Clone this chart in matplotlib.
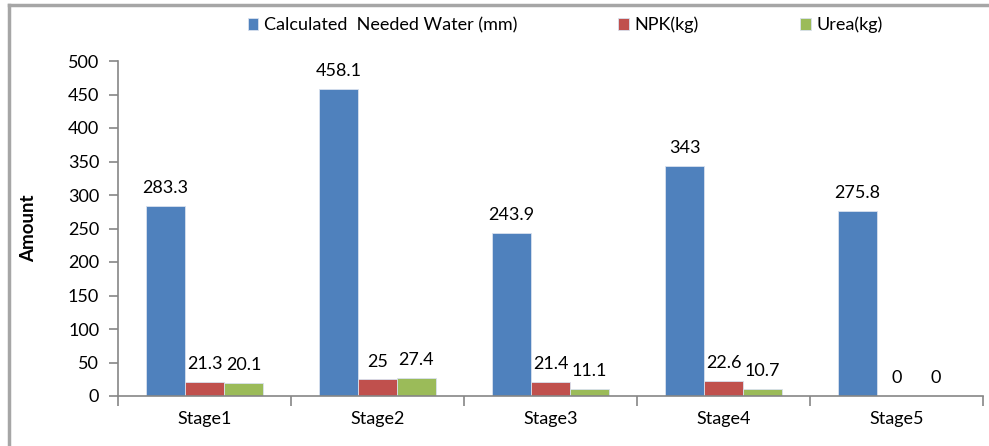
import numpy as np
import matplotlib.pyplot as plt
from matplotlib.lines import Line2D

# Datos
stages = ['Stage1', 'Stage2', 'Stage3', 'Stage4', 'Stage5']
water = [283.3, 458.1, 243.9, 343, 275.8]
npk = [21.3, 25, 21.4, 22.6, 0]
urea = [20.1, 27.4, 11.1, 10.7, 0]
series_names = ['Calculated  Needed Water (mm)', 'NPK(kg)', 'Urea(kg)']
colors = ['#4F81BD', '#C0504D', '#9BBB59']

plt.rcParams['font.family'] = ['Lato', 'DejaVu Sans']
fs = 13

fig = plt.figure(figsize=(9.89, 4.46), dpi=100)
ax = fig.add_axes([118/989, 50/446, 865/989, 335/446])

# Marco exterior (solo arriba e izquierda visibles)
border = '#A6A6A6'
fig.add_artist(Line2D([9/989, 9/989], [0, 1 - 5/446], transform=fig.transFigure,
                      color=border, linewidth=2.5))
fig.add_artist(Line2D([9/989, 1], [1 - 5/446, 1 - 5/446], transform=fig.transFigure,
                      color=border, linewidth=2.5))

x = np.arange(len(stages))
w = 0.225
gray = '#868686'

for i, (vals, c, name) in enumerate(zip([water, npk, urea], colors, series_names)):
    pos = x + (i - 1) * w
    ax.bar(pos, vals, width=w, color=c, edgecolor='#D9E1EE', linewidth=0.6, label=name)
    for p, v in zip(pos, vals):
        ax.annotate('%g' % v, (p, v), xytext=(0, 7), textcoords='offset points',
                    ha='center', va='bottom', fontsize=fs, color='black')

ax.set_xlim(-0.5, len(stages) - 0.5)
ax.set_ylim(0, 500)
ax.set_yticks(np.arange(0, 501, 50))
ax.set_xticks(x)
ax.set_xticklabels(stages)
ax.set_xticks(np.arange(-0.5, len(stages)), minor=True)
ax.tick_params(axis='x', which='major', length=0, pad=11, labelsize=fs)
ax.tick_params(axis='x', which='minor', length=7, color=gray, width=1.2)
ax.tick_params(axis='y', length=6.5, color=gray, width=1.2, labelsize=fs, pad=7)

for s in ['top', 'right']:
    ax.spines[s].set_visible(False)
for s in ['left', 'bottom']:
    ax.spines[s].set_color(gray)
    ax.spines[s].set_linewidth(1.2)

ax.set_ylabel('Amount', fontsize=13.5, fontweight='bold', labelpad=22)

fig.legend(loc='center', bbox_to_anchor=(565/989, 1 - 25/446), ncol=3, frameon=False,
           fontsize=fs, handlelength=0.6, handleheight=0.6, handletextpad=0.3,
           columnspacing=5.6)

fig.savefig('out.png', dpi=100)
